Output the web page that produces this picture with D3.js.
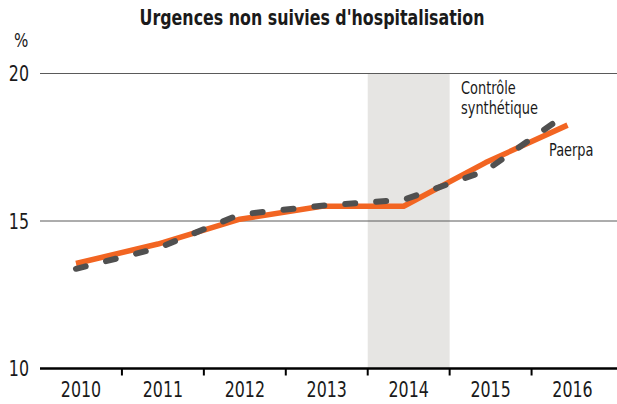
<!DOCTYPE html>
<meta charset="utf-8">
<script src="https://cdn.jsdelivr.net/npm/d3@7"></script>
<style>
  body { margin: 0; background: #fff; }
  text { font-family: "Liberation Sans Narrow", "DejaVu Sans Condensed", sans-serif; fill: #1a1a1a; }
</style>
<div id="chart"></div>
<script>
// data
const years = ["2010", "2011", "2012", "2013", "2014", "2015", "2016"];
const paerpa = [13.56, 14.22, 15.06, 15.5, 15.5, 16.98, 18.25];
const controle = [13.38, 14.08, 15.22, 15.52, 15.72, 16.7, 18.65];
const yTicks = [10, 15, 20];
const shaded = "2014";

const W = 617, H = 404;
const margin = {top: 73.5, right: 0, bottom: 35.5, left: 40};
const narrow = "scale(0.84,1)"; // fake a condensed face

const svg = d3.select("#chart").append("svg")
  .attr("width", W).attr("height", H);

const x = d3.scaleBand().domain(years).range([margin.left, 613.5]);
const y = d3.scaleLinear().domain([10, 20]).range([H - margin.bottom, margin.top]);
// lines sit a bit left of the band centres in the original
const px = d => x(d) + x.bandwidth() / 2 - 5;

// shaded year
svg.append("rect")
  .attr("x", x(shaded)).attr("y", y(20))
  .attr("width", x.bandwidth()).attr("height", y(10) - y(20))
  .attr("fill", "#e6e5e3");

// gridlines
svg.append("g").selectAll("line")
  .data(yTicks.filter(d => d > 10))
  .join("line")
    .attr("x1", margin.left).attr("x2", W)
    .attr("y1", d => y(d)).attr("y2", d => y(d))
    .attr("stroke", "#5a5a5a").attr("stroke-width", 1);

// y labels
svg.append("g").selectAll("g")
  .data(yTicks)
  .join("g")
    .attr("transform", d => `translate(29, ${y(d) + 7.5})`)
  .append("text")
    .attr("text-anchor", "end")
    .attr("transform", narrow)
    .style("font-size", "21px")
    .text(d => d);

svg.append("g")
  .attr("transform", "translate(14, 47)")
  .append("text")
    .attr("transform", narrow)
    .style("font-size", "20px")
    .text("%");

// x axis
svg.append("line")
  .attr("x1", margin.left).attr("x2", W)
  .attr("y1", y(10)).attr("y2", y(10))
  .attr("stroke", "#000").attr("stroke-width", 2.5);

svg.append("g").selectAll("line")
  .data(years.slice(1))
  .join("line")
    .attr("x1", d => x(d)).attr("x2", d => x(d))
    .attr("y1", y(10)).attr("y2", y(10) + 7)
    .attr("stroke", "#000").attr("stroke-width", 2);

svg.append("g")
  .attr("transform", `translate(0, ${y(10)})`)
  .call(d3.axisBottom(x).tickSize(0).tickPadding(0))
  .call(g => g.select(".domain").remove())
  .selectAll("text")
    .attr("dy", null).attr("y", 28.5)
    .attr("transform", narrow)
    .style("font-size", "21px")
    .style("font-family", "'Liberation Sans Narrow', 'DejaVu Sans Condensed', sans-serif")
    .attr("fill", "#1a1a1a");

// lines
const line = d3.line().x((d, i) => px(years[i])).y(d => y(d));

svg.append("path")
  .datum(paerpa)
  .attr("d", line)
  .attr("fill", "none")
  .attr("stroke", "#f26522")
  .attr("stroke-width", 5.5)
  .attr("stroke-linejoin", "round");

svg.append("path")
  .datum(controle)
  .attr("d", line)
  .attr("fill", "none")
  .attr("stroke", "#505050")
  .attr("stroke-width", 6)
  .attr("stroke-linecap", "round")
  .attr("stroke-dasharray", "10,21");

// title
svg.append("g")
  .attr("transform", "translate(312, 25)")
  .append("text")
    .attr("text-anchor", "middle")
    .attr("transform", narrow)
    .style("font-size", "21px").style("font-weight", "bold")
    .text("Urgences non suivies d'hospitalisation");

// series labels, one text per line
svg.append("g").selectAll("g")
  .data(["Contrôle", "synthétique"])
  .join("g")
    .attr("transform", (d, i) => `translate(461, ${94 + i * 19.5})`)
  .append("text")
    .attr("transform", "scale(0.8,1)")
    .style("font-size", "18px")
    .text(d => d);

svg.append("g")
  .attr("transform", "translate(549, 156)")
  .append("text")
    .attr("transform", "scale(0.8,1)")
    .style("font-size", "18px")
    .text("Paerpa");
</script>
